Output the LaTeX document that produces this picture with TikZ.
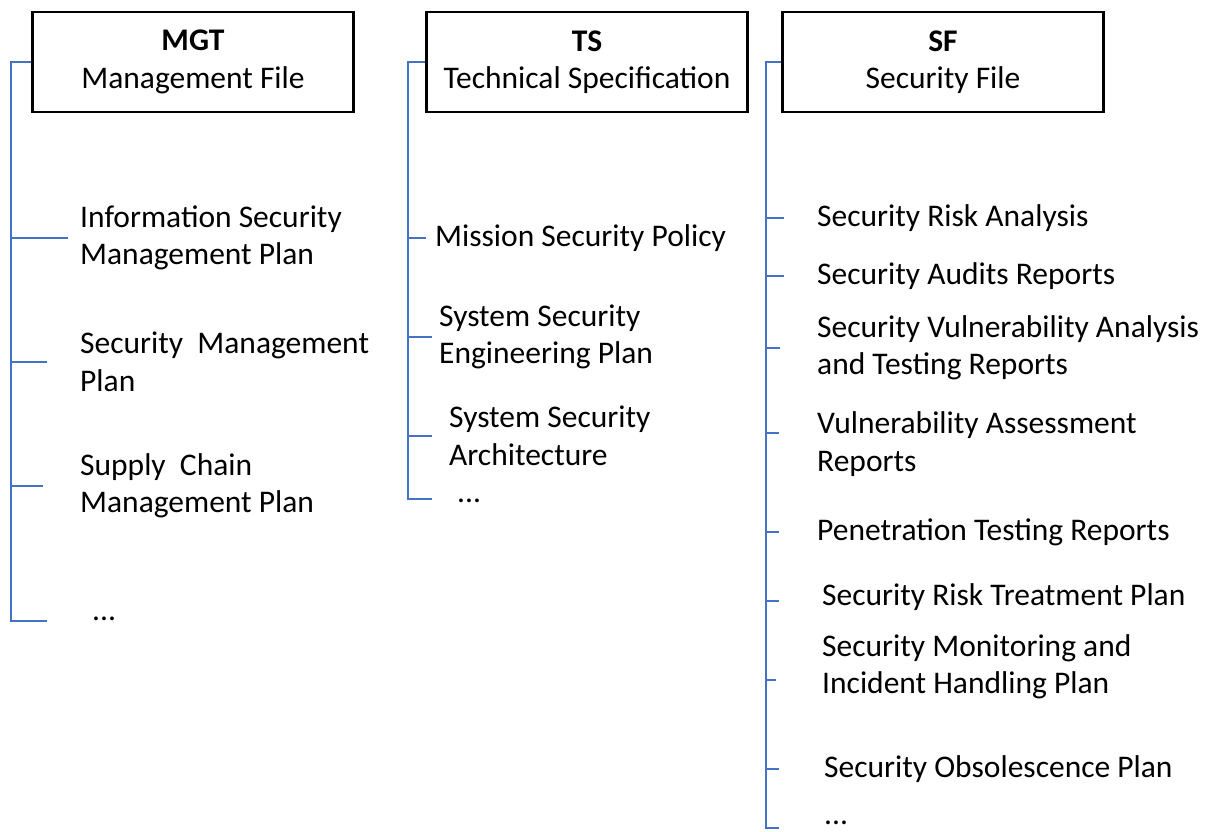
\documentclass[tikz,border=0pt]{standalone}
\usepackage{fontspec}
\setmainfont{Carlito}
\usetikzlibrary{positioning,calc}
\definecolor{treeblue}{HTML}{4472C4}

\tikzset{
  filebox/.style={draw, line width=2.4pt, minimum width=321pt, minimum height=100pt, align=center, inner sep=0pt},
  item/.style={anchor=west, align=left, inner sep=0pt},
  more/.style={anchor=base west, inner sep=0pt},
  tree/.style={treeblue, line width=1.3pt},
}

\begin{document}
\begin{tikzpicture}[x=1pt, y=-1pt, font=\fontsize{31.5}{37.5}\selectfont]
\useasboundingbox (0,0) rectangle (1213,832);

% the three files
\node[filebox] (mgt) at (193,62) {\textbf{MGT}\\Management File};
\node[filebox] (ts) at (587,62) {\textbf{TS}\\Technical Specification};
\node[filebox] (sf) at (943,62) {\textbf{SF}\\Security File};

% management file
\node[item] (m1) at (80,238) {Information Security\\Management Plan};
\node[item] (m2) at (80,362) {Security\ \ Management\\Plan};
\node[item] (m3) at (80,486) {Supply\ \ Chain\\Management Plan};
\node[more] (m4) at (92,620) {...};
\coordinate (mgt-top) at (11,62);
\coordinate (mgt-end) at (11,621);
\draw[tree] (mgt.west) -- (mgt-top) -- (mgt-end) -- ++(36,0);
\draw[tree] (mgt-top |- m1.west) -- ++(57,0);
\draw[tree] (mgt-top |- m2.west) -- ++(36,0);
\draw[tree] (mgt-top |- m3.west) -- ++(32,0);

% technical specification
\node[item] (t1) at (435,238) {Mission Security Policy};
\node[item] (t2) at (439,337) {System Security\\Engineering Plan};
\node[item] (t3) at (449,436) {System Security\\Architecture};
\node[more] (t4) at (457,502) {...};
\coordinate (ts-top) at (408,62);
\coordinate (ts-end) at (408,499);
\draw[tree] (ts.west) -- (ts-top) -- (ts-end) -- ++(24,0);
\draw[tree] (ts-top |- t1.west) -- ++(18,0);
\draw[tree] (ts-top |- t2.west) -- ++(24,0);
\draw[tree] (ts-top |- t3.west) -- ++(24,0);

% security file
\node[item] (s1) at (817,218) {Security Risk Analysis};
\node[item] (s2) at (817,276) {Security Audits Reports};
\node[item] (s3) at (817,348) {Security Vulnerability Analysis\\and Testing Reports};
\node[item] (s4) at (817,444) {Vulnerability Assessment\\Reports};
\node[item] (s5) at (817,532) {Penetration Testing Reports};
\node[item] (s6) at (822,597) {Security Risk Treatment Plan};
\node[item] (s7) at (822,667) {Security Monitoring and\\Incident Handling Plan};
\node[item] (s8) at (824,769) {Security Obsolescence Plan};
\node[more] (s9) at (824,824) {...};
\coordinate (sf-top) at (766,62);
\coordinate (sf-end) at (766,828);
\draw[tree] (sf.west) -- (sf-top) -- (sf-end) -- ++(13,0);
\draw[tree] (sf-top |- s1.west) -- ++(18,0);
\draw[tree] (sf-top |- s2.west) -- ++(18,0);
\draw[tree] (sf-top |- s3.west) -- ++(14,0);
\draw[tree] ($(sf-top |- s4.west)+(0,-11)$) -- ++(13,0);
\draw[tree] (sf-top |- s5.west) -- ++(13,0);
\draw[tree] ($(sf-top |- s6.west)+(0,4)$) -- ++(13,0);
\draw[tree] ($(sf-top |- s7.west)+(0,13)$) -- ++(10,0);
\draw[tree] (sf-top |- s8.west) -- ++(13,0);
\end{tikzpicture}
\end{document}
